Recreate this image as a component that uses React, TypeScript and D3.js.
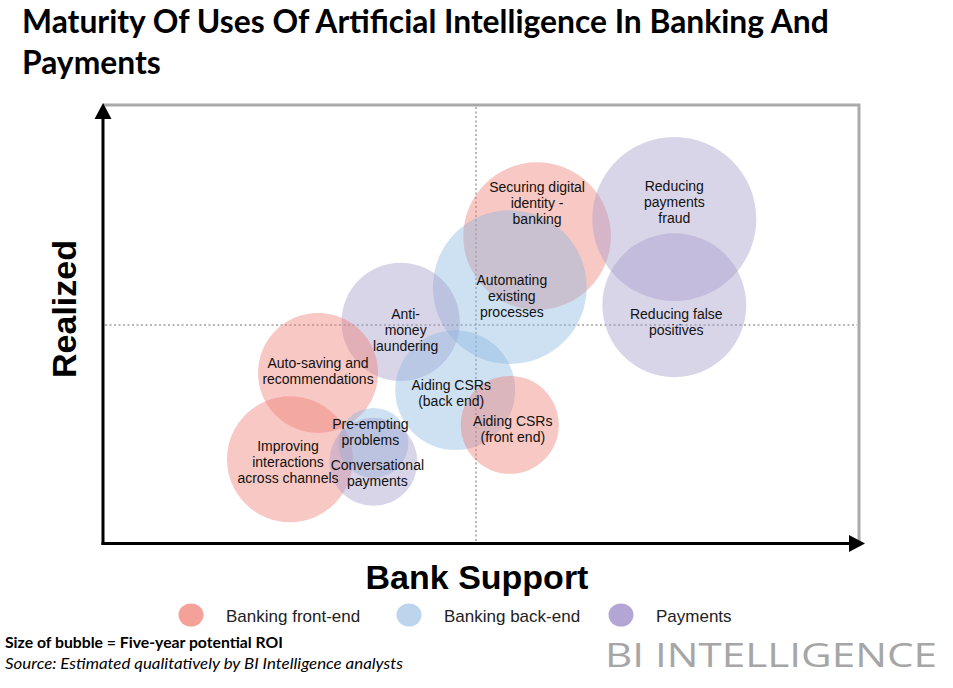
import React from 'react';
import * as d3 from 'd3';

// bubble data: bank support (x), realized (y), five-year ROI (size)
const uses = [
  'Securing digital identity - banking',
  'Reducing payments fraud',
  'Reducing false positives',
  'Automating existing processes',
  'Anti-money laundering',
  'Auto-saving and recommendations',
  'Aiding CSRs (back end)',
  'Aiding CSRs (front end)',
  'Improving interactions across channels',
  'Pre-empting problems',
  'Conversational payments',
];
const bankSupport = [5.74, 7.55, 7.55, 5.38, 3.94, 2.85, 4.66, 5.38, 2.48, 3.58, 3.58];
const realized = [7.02, 7.41, 5.45, 5.86, 5.07, 3.91, 3.52, 2.73, 1.95, 2.32, 1.89];
const roi = [8.1, 10, 7.7, 8.8, 5.2, 5.35, 5.35, 3.57, 5.9, 1.82, 2.88];
const segment = ['front', 'pay', 'pay', 'back', 'pay', 'front', 'back', 'front', 'front', 'back', 'pay'];
const labelLines = [
  ['Securing digital', 'identity -', 'banking'],
  ['Reducing', 'payments', 'fraud'],
  ['Reducing false', 'positives'],
  ['Automating', 'existing', 'processes'],
  ['Anti-', 'money', 'laundering'],
  ['Auto-saving and', 'recommendations'],
  ['Aiding CSRs', '(back end)'],
  ['Aiding CSRs', '(front end)'],
  ['Improving', 'interactions', 'across channels'],
  ['Pre-empting', 'problems'],
  ['Conversational', 'payments'],
];
// label nudges relative to bubble centre (px)
const labelDx = [0, 0, 2, 2, 5, 0, -4, 3, -2, -3, 4];
const labelDy = [-33, -17, 17, 9, 8, -2, 3, 4, 3, -11, 11];

const legendKeys = ['front', 'back', 'pay'];
const legendNames = ['Banking front-end', 'Banking back-end', 'Payments'];

const fillColor: Record<string, string> = { front: '#ee7d72', back: '#8ab8e0', pay: '#a59bcb' };
const legendColor: Record<string, string> = { front: '#f4a199', back: '#bcd5ec', pay: '#b3a6d4' };

const W = 953;
const H = 688;

export default function App() {
  const x = d3.scaleLinear().domain([0, 10]).range([102, 860]);
  const y = d3.scaleLinear().domain([0, 10]).range([545, 105]);
  const r = d3.scaleSqrt().domain([0, 10]).range([0, 82]);

  const axisX = 103;
  const axisY = 543.5;
  const midX = 476;
  const midY = 325;

  const legendCx = [191, 409, 621];

  return (
    <svg width={W} height={H} style={{ position: 'absolute', left: 0, top: 0, background: '#fff' }}>
      <text x={22} y={33} fontFamily="Lato, 'Open Sans', sans-serif" fontWeight={700} fontSize={31.8} fill="#000">
        Maturity Of Uses Of Artificial Intelligence In Banking And
      </text>
      <text x={22} y={74} fontFamily="Lato, 'Open Sans', sans-serif" fontWeight={700} fontSize={31.8} fill="#000">
        Payments
      </text>

      {/* frame */}
      <path d={`M${axisX},105 H859 V${axisY}`} fill="none" stroke="#aaaaaa" strokeWidth={3} />
      <line x1={midX} x2={midX} y1={107} y2={542} stroke="#a0a0a0" strokeWidth={1.5} strokeDasharray="2 2.5" />
      <line x1={105} x2={857} y1={midY} y2={midY} stroke="#a0a0a0" strokeWidth={1.5} strokeDasharray="2 2.5" />

      {/* bubbles */}
      {uses.map((u, i) => (
        <circle
          key={u}
          cx={x(bankSupport[i])}
          cy={y(realized[i])}
          r={r(roi[i])}
          fill={fillColor[segment[i]]}
          fillOpacity={0.42}
        />
      ))}
      {uses.map((u, i) => {
        const lines = labelLines[i];
        const cx = x(bankSupport[i]) + labelDx[i];
        const cy = y(realized[i]) + labelDy[i];
        return (
          <text
            key={'l' + u}
            x={cx}
            textAnchor="middle"
            fontFamily="'Liberation Sans', Arial, sans-serif"
            fontSize={14}
            fill="#111"
          >
            {lines.map((t, j) => (
              <tspan key={j} x={cx} y={cy + (j - (lines.length - 1) / 2) * 16 + 5}>
                {t}
              </tspan>
            ))}
          </text>
        );
      })}

      {/* axes */}
      <line x1={axisX} x2={axisX} y1={545} y2={115} stroke="#000" strokeWidth={3} />
      <path d={`M${axisX},103 L${axisX + 8.5},119 L${axisX - 8.5},119 Z`} fill="#000" />
      <line x1={axisX - 1.5} x2={852} y1={axisY} y2={axisY} stroke="#000" strokeWidth={3} />
      <path d={`M865,${axisY} L849,${axisY - 8.5} L849,${axisY + 8.5} Z`} fill="#000" />

      <text
        transform={`translate(76,309) rotate(-90)`}
        textAnchor="middle"
        fontFamily="'Liberation Sans', Arial, sans-serif"
        fontWeight={700}
        fontSize={34}
        fill="#000"
      >
        Realized
      </text>
      <text x={477} y={589} textAnchor="middle" fontFamily="'Liberation Sans', Arial, sans-serif" fontWeight={700} fontSize={34} fill="#000">
        Bank Support
      </text>

      {/* legend */}
      {legendKeys.map((k, i) => (
        <g key={k}>
          <ellipse cx={legendCx[i]} cy={615} rx={12.5} ry={11.5} fill={legendColor[k]} />
          <text x={legendCx[i] + 35} y={622} fontFamily="'Liberation Sans', Arial, sans-serif" fontSize={17} fill="#222">
            {legendNames[i]}
          </text>
        </g>
      ))}

      {/* footer */}
      <text x={5} y={648} fontFamily="Lato, sans-serif" fontWeight={700} fontSize={15} fill="#000" textLength={278} lengthAdjust="spacingAndGlyphs">
        Size of bubble = Five-year potential ROI
      </text>
      <text x={5} y={669} fontFamily="Lato, sans-serif" fontStyle="italic" fontSize={15} fill="#000" textLength={398} lengthAdjust="spacingAndGlyphs">
        Source: Estimated qualitatively by BI Intelligence analysts
      </text>
      <text x={605} y={667} fontFamily="'Open Sans', sans-serif" fontSize={33} fill="#a6a6a6" textLength={332} lengthAdjust="spacingAndGlyphs">
        BI INTELLIGENCE
      </text>
    </svg>
  );
}
